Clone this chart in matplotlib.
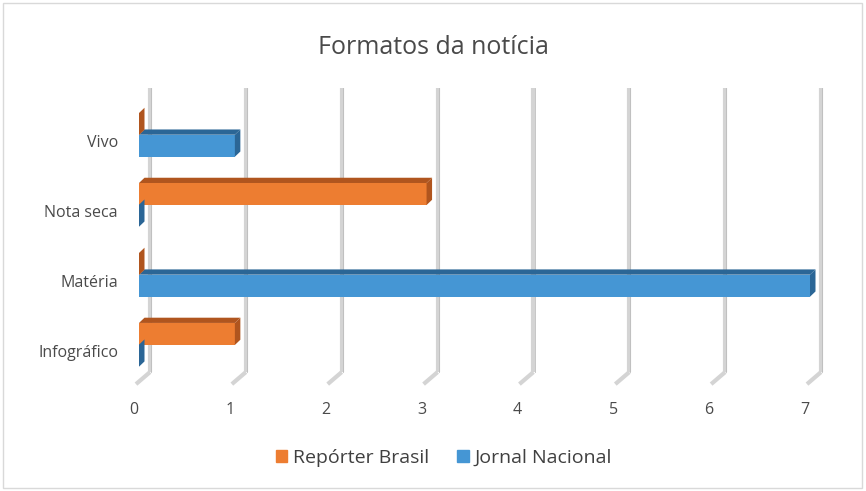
import matplotlib.pyplot as plt
import matplotlib.transforms as mtransforms
from matplotlib.patches import Polygon, Rectangle
import numpy as np

plt.rcParams['font.family'] = ['Open Sans', 'DejaVu Sans']

categories = ['Infográfico', 'Matéria', 'Nota seca', 'Vivo']
reporter_brasil = [1, 0, 3, 0]
jornal_nacional = [0, 7, 0, 1]
xticks = [0, 1, 2, 3, 4, 5, 6, 7]

orange = '#ED7D31'
orange_dark = '#B0551E'
blue = '#4596D4'
blue_dark = '#2B6696'
text_col = '#4a4a4a'

W, H = 866, 491
fig = plt.figure(figsize=(W / 100, H / 100), dpi=100)
fig.patches.append(Rectangle((3 / W, 3 / H), 859 / W, 485 / H, transform=fig.transFigure,
                             fill=False, edgecolor='#d9d9d9', lw=1))

# plot area in pixels: x 0->139, 7->810 ; y top 88, bottom 370
ax = fig.add_axes([139 / W, 1 - 370 / H, (810 - 139) / W, (370 - 88) / H])
ax.set_xlim(0, 7)
ax.set_ylim(-0.36, 3.67)
for s in ax.spines.values():
    s.set_visible(False)
ax.set_xticks([])
ax.set_yticks([])

px = fig.dpi_scale_trans
shift = mtransforms.ScaledTranslation(11 / 100, 0, px)
grid_tr = ax.transData + shift

# gridlines (3D walls)
for v in xticks:
    ax.plot([v, v], [3.67, -0.39], color='#d4d4d4', lw=3, solid_capstyle='butt',
            transform=grid_tr, clip_on=False, zorder=1)
    ax.plot([v, v], [3.67, -0.39], color='#bdbdbd', lw=0.6,
            transform=grid_tr + mtransforms.ScaledTranslation(1.2 / 100, 0, px),
            clip_on=False, zorder=1)
    # diagonal foot
    x0, y0 = grid_tr.transform((v, -0.39))
    foot = mtransforms.Affine2D().translate(x0, y0)
    ax.plot([0, -14], [0, -12], color='#d4d4d4', lw=3, solid_capstyle='butt',
            transform=foot, clip_on=False, zorder=1)

h = 0.315
off = 0.155
dx = 5.5 / 95.9
dy = 0.075


def bar3d(y, v, c, cd):
    ax.add_patch(Rectangle((0, y - h / 2), v, h, facecolor=c, edgecolor='none',
                           zorder=3, clip_on=False))
    ax.add_patch(Polygon([(0, y + h / 2), (v, y + h / 2), (v + dx, y + h / 2 + dy),
                          (dx, y + h / 2 + dy)], closed=True, facecolor=cd,
                         edgecolor='none', zorder=2, clip_on=False))
    ax.add_patch(Polygon([(v, y - h / 2), (v, y + h / 2), (v + dx, y + h / 2 + dy),
                          (v + dx, y - h / 2 + dy)], closed=True, facecolor=cd,
                         edgecolor='none', zorder=3, clip_on=False))


ypos = np.arange(len(categories))
for i in ypos:
    bar3d(i + off, reporter_brasil[i], orange, orange_dark)
    bar3d(i - off, jornal_nacional[i], blue, blue_dark)

# category labels
lab_tr = ax.get_yaxis_transform() + mtransforms.ScaledTranslation(-21 / 100, -8 / 100, px)
for i, c in zip(ypos, categories):
    ax.text(0, i, c, transform=lab_tr, ha='right', va='center', fontsize=11.5, color=text_col)

# value labels
val_tr = ax.get_xaxis_transform() + mtransforms.ScaledTranslation(-5 / 100, -40 / 100, px)
for v in xticks:
    ax.text(v, 0, str(v), transform=val_tr, ha='center', va='center', fontsize=11.5,
            color=text_col)

fig.text(0.5, 1 - 47 / H, 'Formatos da notícia', ha='center', va='center',
         fontsize=18, color=text_col)

handles = [Rectangle((0, 0), 1, 1, color=orange), Rectangle((0, 0), 1, 1, color=blue)]
leg = fig.legend(handles, ['Repórter Brasil', 'Jornal Nacional'], loc='center',
                 bbox_to_anchor=(0.5 + 11 / W, 1 - 458 / H), ncol=2, frameon=False,
                 handlelength=0.6, handleheight=0.6, handletextpad=0.3, columnspacing=1.45,
                 fontsize=14)
for t in leg.get_texts():
    t.set_color('#404040')

fig.savefig('out.png', dpi=100)
